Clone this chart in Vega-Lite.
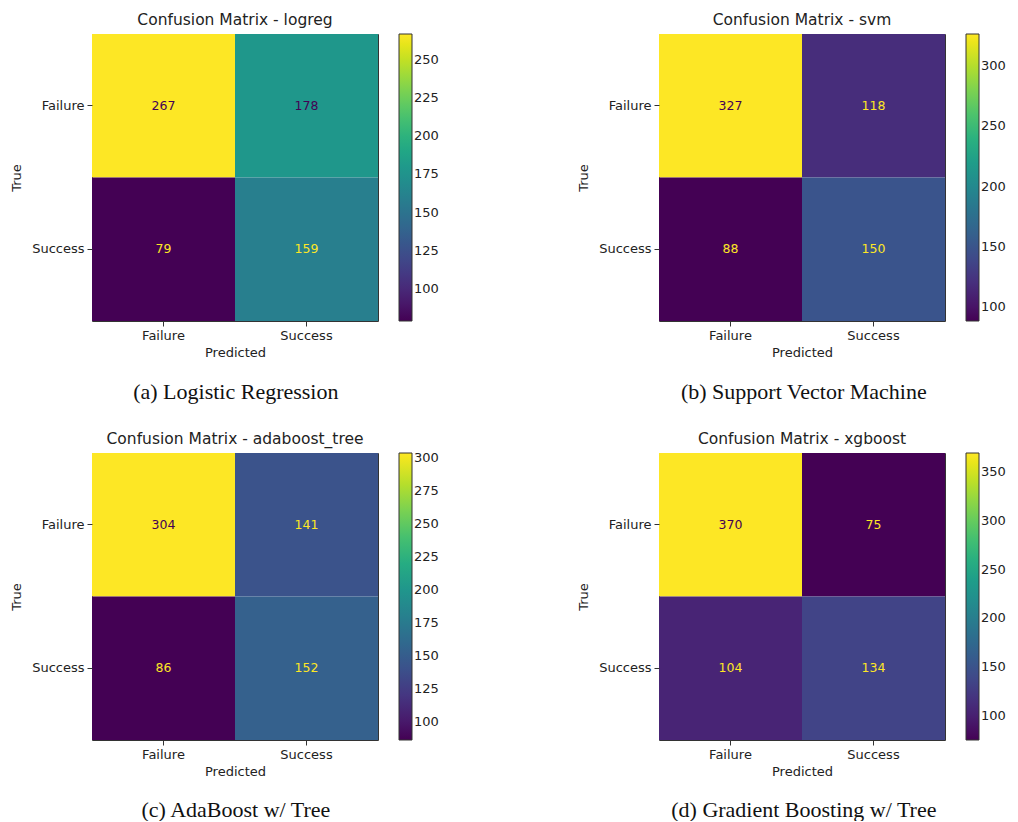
{
  "$schema": "https://vega.github.io/schema/vega-lite/v6.json",
  "padding": {"left": 10, "top": 12, "right": 5, "bottom": 0},
  "background": "white",
  "datasets": {
    "cm": [
      {"model": "logreg", "true": "Failure", "pred": "Failure", "count": 267},
      {"model": "logreg", "true": "Failure", "pred": "Success", "count": 178},
      {"model": "logreg", "true": "Success", "pred": "Failure", "count": 79},
      {"model": "logreg", "true": "Success", "pred": "Success", "count": 159},
      {"model": "svm", "true": "Failure", "pred": "Failure", "count": 327},
      {"model": "svm", "true": "Failure", "pred": "Success", "count": 118},
      {"model": "svm", "true": "Success", "pred": "Failure", "count": 88},
      {"model": "svm", "true": "Success", "pred": "Success", "count": 150},
      {"model": "adaboost_tree", "true": "Failure", "pred": "Failure", "count": 304},
      {"model": "adaboost_tree", "true": "Failure", "pred": "Success", "count": 141},
      {"model": "adaboost_tree", "true": "Success", "pred": "Failure", "count": 86},
      {"model": "adaboost_tree", "true": "Success", "pred": "Success", "count": 152},
      {"model": "xgboost", "true": "Failure", "pred": "Failure", "count": 370},
      {"model": "xgboost", "true": "Failure", "pred": "Success", "count": 75},
      {"model": "xgboost", "true": "Success", "pred": "Failure", "count": 104},
      {"model": "xgboost", "true": "Success", "pred": "Success", "count": 134}
    ]
  },
  "config": {
    "font": "DejaVu Sans",
    "view": {"stroke": "#333", "strokeWidth": 1},
    "axis": {
      "labelFont": "DejaVu Sans", "labelFontSize": 13, "labelColor": "#222",
      "titleFont": "DejaVu Sans", "titleFontSize": 13, "titleFontWeight": "normal", "titleColor": "#222",
      "tickColor": "#333", "tickSize": 5, "domain": false, "grid": false, "labelPadding": 3
    },
    "axisX": {"titlePadding": 4},
    "axisY": {"titlePadding": 8},
    "title": {"font": "DejaVu Sans", "fontSize": 15.5, "fontWeight": "normal", "color": "#222", "offset": 6},
    "legend": {
      "orient": "right", "offset": 21, "direction": "vertical",
      "gradientLength": 287, "gradientThickness": 13, "padding": 0,
      "gradientStrokeColor": "#333", "gradientStrokeWidth": 1,
      "labelFont": "DejaVu Sans", "labelFontSize": 13, "labelColor": "#222",
      "labelOffset": 8, "labelOverlap": false
    },
    "concat": {"spacing": 137}
  },
  "resolve": {"scale": {"color": "independent"}},
  "spacing": 28,
  "vconcat": [
    {
      "hconcat": [
        {
          "title": {"text": "(a) Logistic Regression", "orient": "bottom", "anchor": "middle", "dx": 11, "font": "Liberation Serif", "fontSize": 22, "color": "#111", "offset": 22},
          "resolve": {"scale": {"color": "independent"}},
          "vconcat": [
            {
              "title": "Confusion Matrix - logreg",
              "data": {"name": "cm"},
              "transform": [
                {"filter": "datum.model == 'logreg'"},
                {"joinaggregate": [{"op": "min", "field": "count", "as": "lo"}, {"op": "max", "field": "count", "as": "hi"}]}
              ],
              "width": 286, "height": 287,
              "encoding": {
                "x": {"field": "pred", "type": "nominal", "sort": ["Failure", "Success"], "scale": {"paddingInner": 0, "paddingOuter": 0}, "axis": {"labelAngle": 0, "title": "Predicted", "bandPosition": 0.5}},
                "y": {"field": "true", "type": "nominal", "sort": ["Failure", "Success"], "scale": {"paddingInner": 0, "paddingOuter": 0}, "axis": {"title": "True", "bandPosition": 0.5}}
              },
              "layer": [
                {"mark": {"type": "rect"}, "encoding": {"color": {"field": "count", "type": "quantitative", "scale": {"scheme": "viridis", "zero": false, "nice": false}, "legend": {"title": null, "values": [100, 125, 150, 175, 200, 225, 250]}}}},
                {"mark": {"type": "text", "fontSize": 12.5, "font": "DejaVu Sans"}, "encoding": {"text": {"field": "count", "type": "quantitative"}, "color": {"condition": {"test": "datum.count > (datum.lo + datum.hi) / 2", "value": "#440154"}, "value": "#fde725"}}}
              ]
            }
          ]
        },
        {
          "title": {"text": "(b) Support Vector Machine", "orient": "bottom", "anchor": "middle", "dx": 12, "font": "Liberation Serif", "fontSize": 22, "color": "#111", "offset": 22},
          "resolve": {"scale": {"color": "independent"}},
          "vconcat": [
            {
              "title": "Confusion Matrix - svm",
              "data": {"name": "cm"},
              "transform": [
                {"filter": "datum.model == 'svm'"},
                {"joinaggregate": [{"op": "min", "field": "count", "as": "lo"}, {"op": "max", "field": "count", "as": "hi"}]}
              ],
              "width": 286, "height": 287,
              "encoding": {
                "x": {"field": "pred", "type": "nominal", "sort": ["Failure", "Success"], "scale": {"paddingInner": 0, "paddingOuter": 0}, "axis": {"labelAngle": 0, "title": "Predicted", "bandPosition": 0.5}},
                "y": {"field": "true", "type": "nominal", "sort": ["Failure", "Success"], "scale": {"paddingInner": 0, "paddingOuter": 0}, "axis": {"title": "True", "bandPosition": 0.5}}
              },
              "layer": [
                {"mark": {"type": "rect"}, "encoding": {"color": {"field": "count", "type": "quantitative", "scale": {"scheme": "viridis", "zero": false, "nice": false}, "legend": {"title": null, "values": [100, 150, 200, 250, 300]}}}},
                {"mark": {"type": "text", "fontSize": 12.5, "font": "DejaVu Sans"}, "encoding": {"text": {"field": "count", "type": "quantitative"}, "color": {"condition": {"test": "datum.count > (datum.lo + datum.hi) / 2", "value": "#440154"}, "value": "#fde725"}}}
              ]
            }
          ]
        }
      ]
    },
    {
      "hconcat": [
        {
          "title": {"text": "(c) AdaBoost w/ Tree", "orient": "bottom", "anchor": "middle", "dx": 11, "font": "Liberation Serif", "fontSize": 22, "color": "#111", "offset": 21},
          "resolve": {"scale": {"color": "independent"}},
          "vconcat": [
            {
              "title": "Confusion Matrix - adaboost_tree",
              "data": {"name": "cm"},
              "transform": [
                {"filter": "datum.model == 'adaboost_tree'"},
                {"joinaggregate": [{"op": "min", "field": "count", "as": "lo"}, {"op": "max", "field": "count", "as": "hi"}]}
              ],
              "width": 286, "height": 287,
              "encoding": {
                "x": {"field": "pred", "type": "nominal", "sort": ["Failure", "Success"], "scale": {"paddingInner": 0, "paddingOuter": 0}, "axis": {"labelAngle": 0, "title": "Predicted", "bandPosition": 0.5}},
                "y": {"field": "true", "type": "nominal", "sort": ["Failure", "Success"], "scale": {"paddingInner": 0, "paddingOuter": 0}, "axis": {"title": "True", "bandPosition": 0.5}}
              },
              "layer": [
                {"mark": {"type": "rect"}, "encoding": {"color": {"field": "count", "type": "quantitative", "scale": {"scheme": "viridis", "zero": false, "nice": false}, "legend": {"title": null, "values": [100, 125, 150, 175, 200, 225, 250, 275, 300]}}}},
                {"mark": {"type": "text", "fontSize": 12.5, "font": "DejaVu Sans"}, "encoding": {"text": {"field": "count", "type": "quantitative"}, "color": {"condition": {"test": "datum.count > (datum.lo + datum.hi) / 2", "value": "#440154"}, "value": "#fde725"}}}
              ]
            }
          ]
        },
        {
          "title": {"text": "(d) Gradient Boosting w/ Tree", "orient": "bottom", "anchor": "middle", "dx": 12, "font": "Liberation Serif", "fontSize": 22, "color": "#111", "offset": 21},
          "resolve": {"scale": {"color": "independent"}},
          "vconcat": [
            {
              "title": "Confusion Matrix - xgboost",
              "data": {"name": "cm"},
              "transform": [
                {"filter": "datum.model == 'xgboost'"},
                {"joinaggregate": [{"op": "min", "field": "count", "as": "lo"}, {"op": "max", "field": "count", "as": "hi"}]}
              ],
              "width": 286, "height": 287,
              "encoding": {
                "x": {"field": "pred", "type": "nominal", "sort": ["Failure", "Success"], "scale": {"paddingInner": 0, "paddingOuter": 0}, "axis": {"labelAngle": 0, "title": "Predicted", "bandPosition": 0.5}},
                "y": {"field": "true", "type": "nominal", "sort": ["Failure", "Success"], "scale": {"paddingInner": 0, "paddingOuter": 0}, "axis": {"title": "True", "bandPosition": 0.5}}
              },
              "layer": [
                {"mark": {"type": "rect"}, "encoding": {"color": {"field": "count", "type": "quantitative", "scale": {"scheme": "viridis", "zero": false, "nice": false}, "legend": {"title": null, "values": [100, 150, 200, 250, 300, 350]}}}},
                {"mark": {"type": "text", "fontSize": 12.5, "font": "DejaVu Sans"}, "encoding": {"text": {"field": "count", "type": "quantitative"}, "color": {"condition": {"test": "datum.count > (datum.lo + datum.hi) / 2", "value": "#440154"}, "value": "#fde725"}}}
              ]
            }
          ]
        }
      ]
    }
  ]
}
